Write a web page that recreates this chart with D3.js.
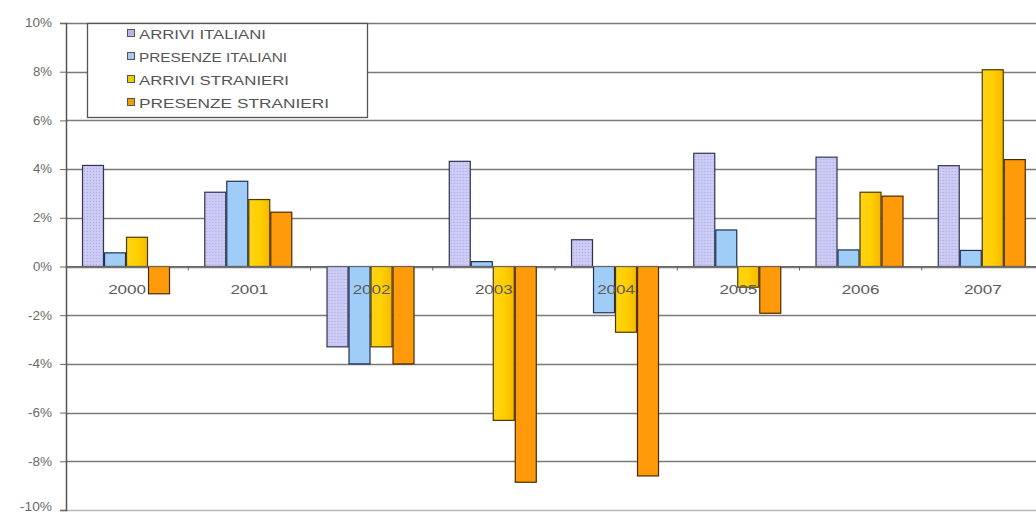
<!DOCTYPE html>
<html>
<head>
<meta charset="utf-8">
<script src="https://cdn.jsdelivr.net/npm/d3@7"></script>
<style>
  html, body { margin: 0; padding: 0; background: #fff; }
  svg { display: block; }
</style>
</head>
<body>
<svg id="chart" width="1036" height="515"></svg>
<script>
// Annual percentage change, tourist arrivals and stays
const years = ["2000", "2001", "2002", "2003", "2004", "2005", "2006", "2007"];
const seriesNames = ["ARRIVI ITALIANI", "PRESENZE ITALIANI", "ARRIVI STRANIERI", "PRESENZE STRANIERI"];
const arriviItaliani    = [4.15, 3.05, -3.3, 4.32, 1.1, 4.65, 4.49, 4.14];
const presenzeItaliani  = [0.56, 3.5, -4.0, 0.2, -1.9, 1.5, 0.68, 0.66];
const arriviStranieri   = [1.2, 2.75, -3.3, -6.32, -2.7, -0.85, 3.05, 8.08];
const presenzeStranieri = [-1.12, 2.23, -4.0, -8.86, -8.6, -1.92, 2.89, 4.39];
const yTicks = [-10, -8, -6, -4, -2, 0, 2, 4, 6, 8, 10];

const seriesValues = [arriviItaliani, presenzeItaliani, arriviStranieri, presenzeStranieri];
const fills = ["url(#hatchLavender)", "#9fcdf7", "url(#gradYellow)", "#ff9a0a"];
const legendFills = ["#b8b8e8", "#a8c8ee", "#e8d000", "#e8a000"];
const strokes = ["#33334d", "#1f2f55", "#4a3a00", "#4a2a00"];

const svg = d3.select("#chart");

// patterns and gradients
const defs = svg.append("defs");
const hatch = defs.append("pattern")
  .attr("id", "hatchLavender").attr("patternUnits", "userSpaceOnUse")
  .attr("width", 3).attr("height", 3);
hatch.append("rect").attr("width", 3).attr("height", 3).attr("fill", "#c9c8f5");
hatch.append("rect").attr("x", 0).attr("y", 0).attr("width", 1).attr("height", 1).attr("fill", "#aeaee6");
hatch.append("rect").attr("x", 1.5).attr("y", 1.5).attr("width", 1).attr("height", 1).attr("fill", "#dcdcfb");

const gy = defs.append("linearGradient").attr("id", "gradYellow")
  .attr("x1", 0).attr("x2", 1).attr("y1", 0).attr("y2", 0);
gy.append("stop").attr("offset", "0%").attr("stop-color", "#ffd21a");
gy.append("stop").attr("offset", "50%").attr("stop-color", "#ffd000");
gy.append("stop").attr("offset", "100%").attr("stop-color", "#f7b800");

// scales
const x0 = d3.scaleBand().domain(years).range([66, 1044]).paddingInner(0).paddingOuter(0);
const bw = x0.bandwidth();
const x1 = d3.scaleBand().domain(seriesNames).range([bw * 0.131, bw * 0.131 + 88]).padding(0);
const y = d3.scaleLinear().domain([-10, 10]).range([510, 23]);

// gridlines
svg.append("g").selectAll("line").data(yTicks).join("line")
  .attr("x1", 66).attr("x2", 1036)
  .attr("y1", d => Math.round(y(d)) + 0.5).attr("y2", d => Math.round(y(d)) + 0.5)
  .attr("stroke", d => d === -10 ? "#b8b8b8" : "#7a7a7a")
  .attr("stroke-width", 1.4);

// bars
const groups = svg.append("g").selectAll("g").data(years).join("g")
  .attr("transform", d => `translate(${x0(d)},0)`);

groups.selectAll("rect")
  .data((yr, i) => seriesNames.map((s, k) => ({ s, k, v: seriesValues[k][i] })))
  .join("rect")
  .attr("x", d => x1(d.s) + 0.5)
  .attr("width", x1.bandwidth() - 1)
  .attr("y", d => y(Math.max(0, d.v)))
  .attr("height", d => Math.abs(y(d.v) - y(0)))
  .attr("fill", d => fills[d.k])
  .attr("stroke", d => strokes[d.k])
  .attr("stroke-width", 1.2);

// y axis
const yAxis = d3.axisLeft(y).tickValues(yTicks).tickFormat(d => d + "%").tickSize(6).tickPadding(8);
const ya = svg.append("g").attr("transform", "translate(66,0)").call(yAxis);
ya.select(".domain").attr("stroke", "#555").attr("stroke-width", 1.5);
ya.selectAll(".tick line").attr("stroke", "#666");
ya.selectAll(".tick text")
  .attr("fill", "#6a6a6a")
  .attr("y", d => d === -10 ? -3 : 0)
  .style("font-family", "Liberation Sans, Arial, sans-serif")
  .style("font-size", "12px")
  .attr("textLength", d => (String(Math.abs(d)).length * 8 + 11 + (d < 0 ? 5 : 0)))
  .attr("lengthAdjust", "spacingAndGlyphs");

// category ticks along zero line
svg.append("g").selectAll("line").data(years.slice(1)).join("line")
  .attr("x1", d => x0(d)).attr("x2", d => x0(d))
  .attr("y1", y(0)).attr("y2", y(0) + 4)
  .attr("stroke", "#666");
svg.append("line")
  .attr("x1", 66).attr("x2", 1036).attr("y1", y(0)).attr("y2", y(0))
  .attr("stroke", "#666").attr("stroke-width", 1.2);

// category labels
svg.append("g").selectAll("text").data(years).join("text")
  .attr("x", d => x0(d) + bw / 2)
  .attr("y", y(0) + 27)
  .attr("text-anchor", "middle")
  .attr("fill", "#5a5a5a")
  .style("font-family", "Liberation Sans, Arial, sans-serif")
  .style("font-size", "13px")
  .attr("textLength", 38)
  .attr("lengthAdjust", "spacingAndGlyphs")
  .text(d => d);

// legend
const legend = svg.append("g");
legend.append("rect")
  .attr("x", 87.5).attr("y", 23.5).attr("width", 280).attr("height", 94)
  .attr("fill", "#fff").attr("stroke", "#555").attr("stroke-width", 1.3);
const legendLen = [127, 148, 150, 190];
const items = legend.selectAll("g.item").data(seriesNames).join("g")
  .attr("class", "item")
  .attr("transform", (d, i) => `translate(127,${34 + i * 23})`);
items.append("rect")
  .attr("x", 0.5).attr("y", -4.5).attr("width", 7).attr("height", 7)
  .attr("fill", (d, i) => legendFills[i]).attr("stroke", "#555").attr("stroke-width", 1);
items.append("text")
  .attr("x", 12).attr("y", 4.5)
  .attr("fill", "#555")
  .style("font-family", "Liberation Sans, Arial, sans-serif")
  .style("font-size", "13px")
  .attr("textLength", (d, i) => legendLen[i])
  .attr("lengthAdjust", "spacingAndGlyphs")
  .text(d => d);
</script>
</body>
</html>
